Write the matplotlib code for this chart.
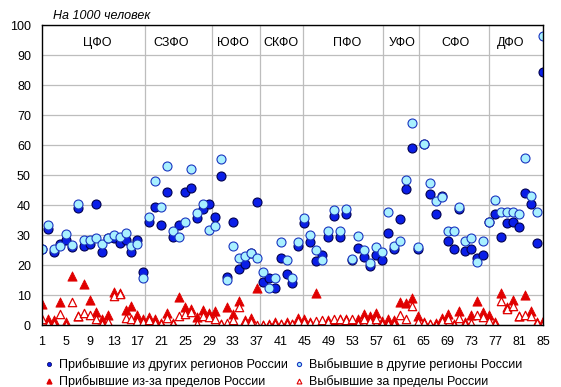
import matplotlib.pyplot as plt
from matplotlib.lines import Line2D
import numpy as np

plt.rcParams['font.family'] = ['Liberation Sans', 'DejaVu Sans']

# per 1000 people, regions 1..85
arr_regions = [25.2, 31.9, 24.3, 27.0, 28.3, 25.9, 38.9, 26.5, 27.0, 40.5,
               24.2, 29.0, 28.9, 27.2, 28.5, 24.2, 28.3, 17.6, 34.2, 39.2,
               33.3, 44.2, 29.4, 33.5, 44.2, 45.6, 35.6, 38.6, 40.2, 35.9,
               49.6, 15.9, 34.2, 18.6, 20.2, 24.0, 40.9, 14.2, 15.6, 12.4,
               22.2, 17.0, 13.9, 26.4, 34.1, 27.6, 21.2, 23.3, 29.2, 36.4,
               29.2, 36.9, 21.8, 25.6, 22.8, 19.7, 23.5, 21.7, 30.6, 25.2,
               35.3, 45.3, 58.9, 25.2, 60.3, 43.7, 36.9, 43.1, 28.0, 25.3,
               38.6, 24.8, 25.3, 22.4, 23.2, 34.4, 36.9, 29.2, 33.9, 34.4,
               32.8, 43.9, 40.3, 27.2, 84.2]
dep_regions = [25.3, 33.3, 25.3, 26.2, 30.3, 26.8, 40.4, 28.3, 28.4, 29.1,
               27.1, 29.1, 30.0, 29.3, 30.8, 26.4, 27.0, 15.6, 36.1, 48.1,
               39.4, 53.1, 31.4, 29.4, 34.4, 52.1, 37.4, 40.2, 31.7, 33.0,
               55.3, 15.0, 26.4, 22.2, 23.1, 24.1, 22.2, 17.8, 12.4, 15.8,
               27.8, 21.7, 15.8, 27.8, 35.8, 30.0, 25.0, 21.7, 31.3, 38.3,
               31.2, 38.7, 22.0, 29.8, 25.0, 20.8, 26.1, 24.2, 37.8, 26.3,
               28.1, 48.3, 67.4, 26.1, 60.3, 47.2, 41.4, 42.7, 31.2, 31.4,
               39.3, 28.0, 28.9, 21.1, 28.1, 34.4, 41.7, 37.6, 37.8, 37.6,
               36.9, 55.8, 43.1, 37.6, 96.2]
arr_abroad = [6.9, 2.1, 1.7, 7.6, 0.9, 16.3, 3.0, 13.6, 8.3, 4.4,
              1.9, 3.2, 11.1, 10.7, 5.1, 6.3, 3.3, 1.9, 2.8, 1.9,
              0.8, 4.1, 0.8, 9.4, 5.9, 5.3, 2.8, 5.0, 4.1, 4.8,
              0.3, 5.9, 3.7, 8.1, 1.7, 2.4, 12.5, 0.1, 0.2, 0.9,
              0.5, 1.1, 0.3, 2.4, 1.9, 1.1, 10.8, 1.3, 1.7, 1.1,
              2.0, 1.9, 1.7, 1.9, 3.6, 3.0, 4.1, 1.3, 1.9, 1.7,
              7.8, 7.4, 8.9, 3.0, 0.9, 0.3, 0.8, 2.4, 3.7, 0.3,
              4.8, 1.1, 3.3, 7.9, 4.4, 3.3, 0.9, 10.6, 6.0, 8.2,
              3.1, 10.0, 4.8, 1.1, 1.2]
dep_abroad = [2.1, 0.3, 0.3, 3.6, 0.1, 7.8, 3.0, 4.1, 3.3, 1.9,
              0.2, 1.1, 9.8, 10.2, 2.4, 1.9, 1.3, 1.1, 1.7, 0.8,
              0.3, 2.4, 0.5, 3.0, 3.6, 4.2, 0.2, 3.0, 2.8, 2.0,
              0.3, 0.8, 1.7, 6.1, 0.9, 1.1, 0.0, 0.0, 0.1, 0.2,
              0.3, 0.5, 0.2, 1.3, 1.1, 0.8, 1.3, 1.7, 1.1, 2.0,
              1.9, 1.7, 1.9, 0.2, 2.0, 1.3, 1.9, 0.2, 0.5, 0.3,
              3.3, 2.0, 6.5, 0.9, 0.6, 0.2, 0.0, 1.3, 2.0, 0.1,
              2.4, 0.5, 0.8, 3.3, 2.6, 1.5, 0.3, 7.9, 5.5, 6.4,
              3.1, 3.3, 3.1, 0.6, 0.2]

districts = ['ЦФО', 'СЗФО', 'ЮФО', 'СКФО', 'ПФО', 'УФО', 'СФО', 'ДФО']
district_x = [10.2, 22.7, 33.0, 41.1, 52.2, 61.3, 70.3, 79.6]
borders = [18.2, 29.5, 37.6, 44.7, 58.2, 64.2, 76.0]
xticks = list(range(1, 86, 4))

x = np.arange(1, len(arr_regions) + 1)

fig = plt.figure(figsize=(5.61, 3.87), dpi=100)
ax = fig.add_axes([42/561, 62/387, 501/561, 300/387])

dark = '#0a1ee8'
light = '#a8f0ff'
red = '#e00000'

ax.scatter(x, arr_regions, s=42, c=dark, edgecolors='#000050', linewidths=0.8, zorder=3)
ax.scatter(x, dep_regions, s=42, c=light, edgecolors='#1a35c0', linewidths=0.8, zorder=4)
ax.scatter(x, arr_abroad, s=44, marker='^', c=red, edgecolors=red, linewidths=0.6, zorder=5)
ax.scatter(x, dep_abroad, s=36, marker='^', facecolors='white', edgecolors=red, linewidths=0.9, zorder=5)

ax.set_xlim(1, 85)
ax.set_ylim(0, 100)
ax.set_yticks(range(0, 101, 10))
ax.set_xticks(xticks)
ax.tick_params(length=0, labelsize=9, pad=8)
ax.yaxis.grid(True, color='#bdbdbd', linewidth=0.9)
for b in borders:
    ax.axvline(b, color='#bdbdbd', linewidth=0.9, zorder=1)
ax.set_axisbelow(True)
for sp in ax.spines.values():
    sp.set_color('black')
    sp.set_linewidth(1.0)
    sp.set_zorder(6)

for name, dx in zip(districts, district_x):
    ax.text(dx, 94, name, ha='center', va='center', fontsize=9)

fig.text(53/561, 1 - 19/387, 'На 1000 человек', fontsize=9, style='italic', va='baseline')

h1 = [Line2D([], [], ls='', marker='o', ms=3, mfc=dark, mec='#000050', mew=0.5),
      Line2D([], [], ls='', marker='^', ms=3.5, mfc=red, mec=red)]
h2 = [Line2D([], [], ls='', marker='o', ms=3, mfc=light, mec='#1a35c0', mew=0.8),
      Line2D([], [], ls='', marker='^', ms=3.5, mfc='white', mec=red, mew=0.8)]
kw = dict(frameon=False, fontsize=9, handlelength=0.8, handletextpad=0.4,
          labelspacing=0.35, borderpad=0, loc='upper left')
fig.legend(h1, ['Прибывшие из других регионов России', 'Прибывшие из-за пределов России'],
           bbox_to_anchor=(38/561, 1 - 352/387), **kw)
fig.legend(h2, ['Выбывшие в другие регионы России', 'Выбывшие за пределы России'],
           bbox_to_anchor=(288/561, 1 - 352/387), **kw)

fig.savefig('out.png', dpi=100)
